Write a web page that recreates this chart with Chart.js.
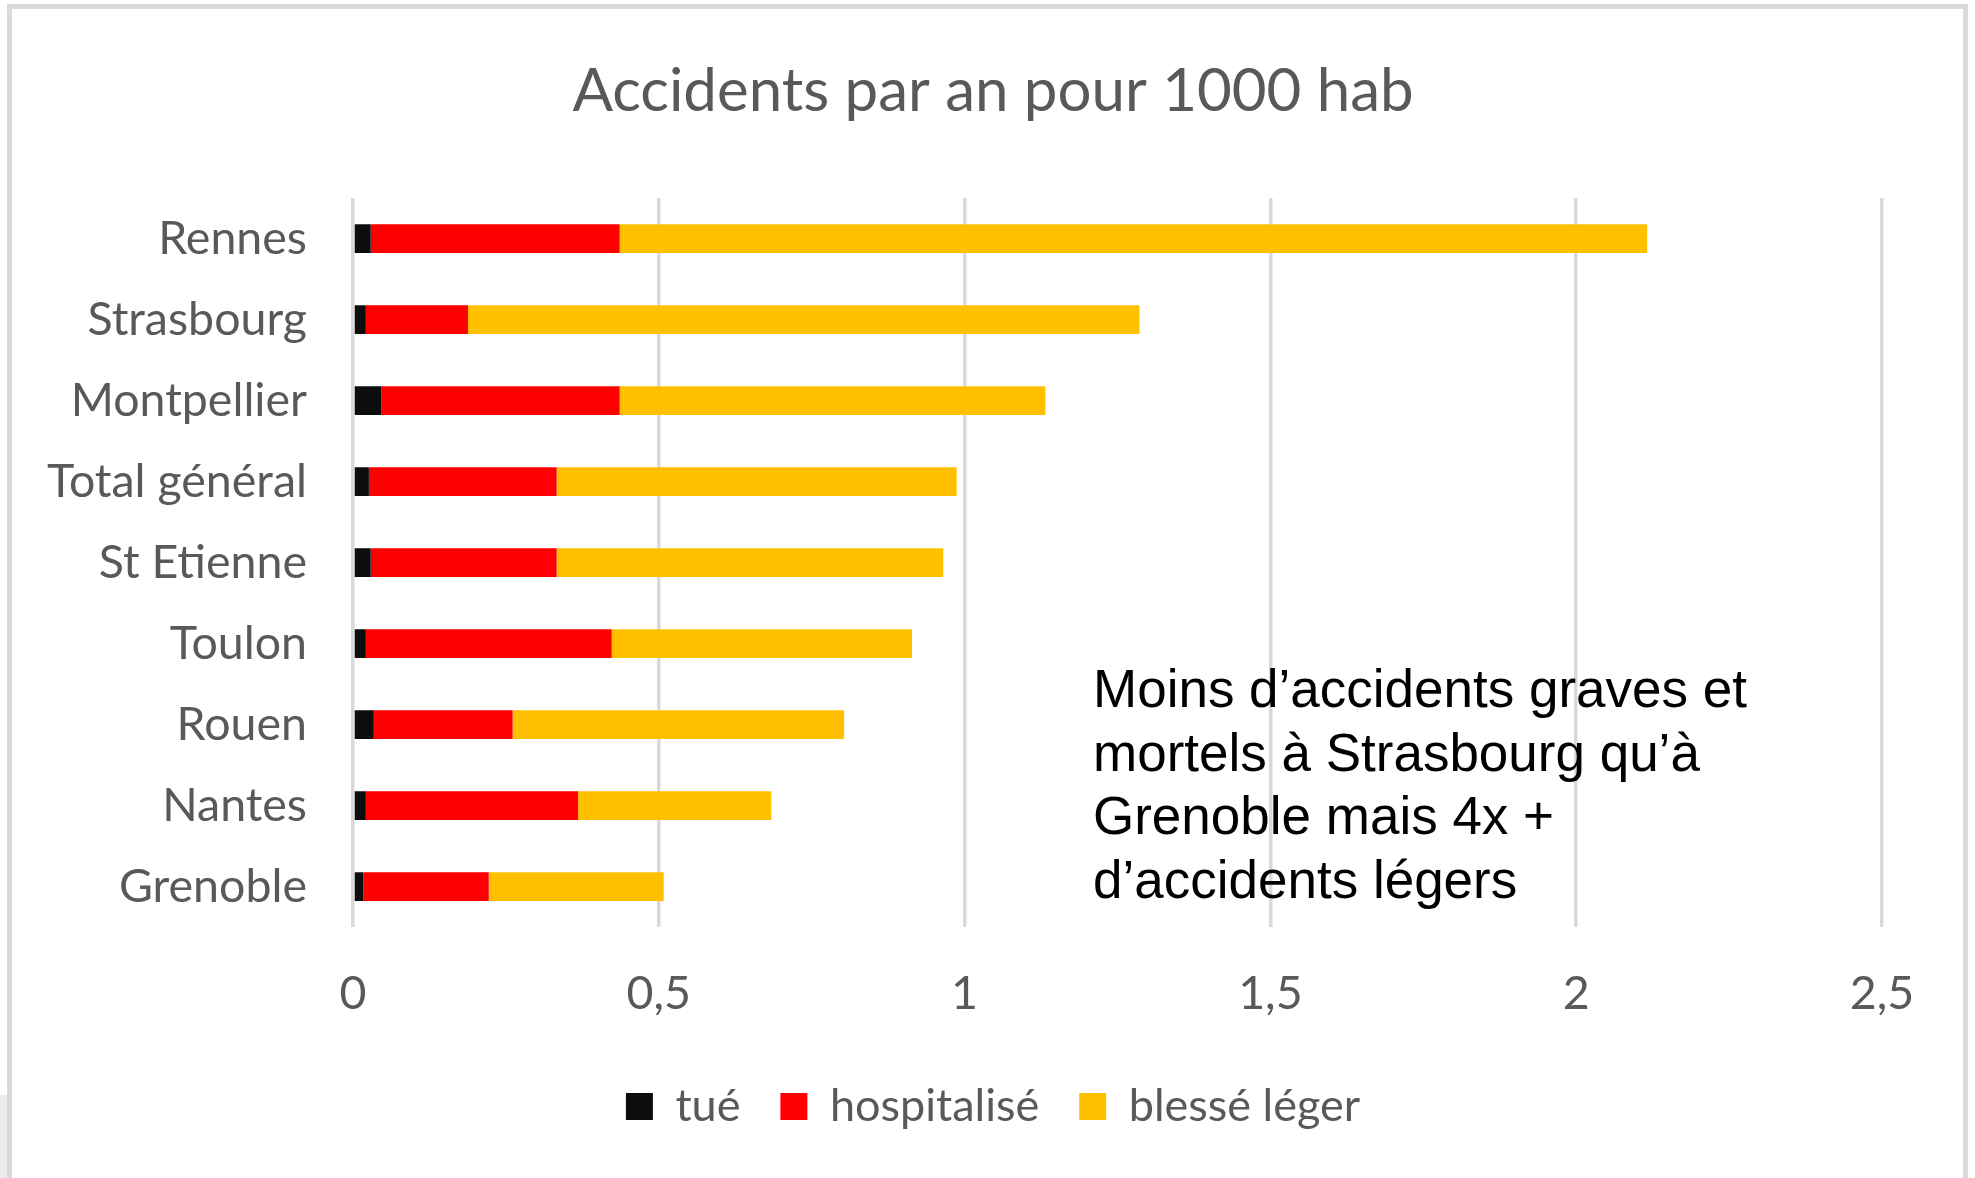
<!DOCTYPE html>
<html>
<head>
<meta charset="utf-8">
<script src="https://cdn.jsdelivr.net/npm/chart.js@4.4.1/dist/chart.umd.min.js"></script>
<style>
  html, body { margin: 0; padding: 0; background: #fff; overflow: hidden; }
  #frame { position: absolute; left: 7px; top: 4px; width: 1961px; height: 1200px;
           box-sizing: border-box; border: 5px solid #dadada; }
  #edge { position: absolute; left: 0; top: 1095px; width: 7px; height: 100px; background: #ececec; }
  #wrap { position: absolute; left: 0; top: 0; width: 1975px; height: 1178px; }
  #note { position: absolute; left: 1093px; top: 657px; font-family: "Liberation Sans", Arial, sans-serif;
          font-size: 53px; line-height: 63.5px; color: #000; white-space: nowrap; }
</style>
</head>
<body>
<div id="frame"></div>
<div id="edge"></div>
<div id="wrap"><canvas id="myChart" width="1975" height="1178"></canvas></div>
<div id="note">Moins d’accidents graves et<br>mortels à Strasbourg qu’à<br>Grenoble mais 4x +<br>d’accidents légers</div>
<script>
const cities = ['Rennes', 'Strasbourg', 'Montpellier', 'Total général', 'St Etienne',
                'Toulon', 'Rouen', 'Nantes', 'Grenoble'];
const tue = [0.029, 0.021, 0.046, 0.026, 0.029, 0.021, 0.034, 0.021, 0.017];
const hospitalise = [0.407, 0.167, 0.390, 0.307, 0.304, 0.402, 0.227, 0.347, 0.205];
const blesseLeger = [1.680, 1.098, 0.696, 0.654, 0.632, 0.491, 0.542, 0.316, 0.286];
const xTickLabels = ['0', '0,5', '1', '1,5', '2', '2,5'];

const grey = '#595959';
const labelFont = { family: 'Lato', size: 46.5 };

var chartContext = document.getElementById('myChart').getContext('2d');
var myChart = new Chart(chartContext, {
    type: 'bar',
    data: {
        labels: cities,
        datasets: [
            { label: 'tué', data: tue, backgroundColor: '#0d0d0d' },
            { label: 'hospitalisé', data: hospitalise, backgroundColor: '#ff0000' },
            { label: 'blessé léger', data: blesseLeger, backgroundColor: '#ffc000' }
        ]
    },
    options: {
        indexAxis: 'y',
        responsive: false,
        animation: false,
        devicePixelRatio: 1,
        layout: { padding: { left: 11, right: 0, top: 0, bottom: 39 } },
        datasets: { bar: { barPercentage: 0.355, categoryPercentage: 1 } },
        plugins: {
            title: {
                display: true,
                text: 'Accidents par an pour 1000 hab',
                color: grey,
                font: { family: 'Lato', size: 60, weight: 'normal' },
                padding: { top: 56, bottom: 70 }
            },
            legend: {
                position: 'bottom',
                labels: {
                    color: grey,
                    font: { family: 'Lato', size: 45 },
                    boxWidth: 27,
                    boxHeight: 27,
                    padding: 40
                }
            },
            tooltip: { enabled: false }
        },
        scales: {
            x: {
                stacked: true,
                min: 0,
                max: 2.5,
                border: { display: false },
                grid: { color: '#d9d9d9', lineWidth: 3.5, drawTicks: false },
                ticks: {
                    stepSize: 0.5,
                    color: grey,
                    font: labelFont,
                    padding: 39,
                    callback: function (value, index) { return xTickLabels[index]; }
                },
                afterFit: function (scale) { scale.height -= 17; }
            },
            y: {
                stacked: true,
                border: { display: false },
                grid: { display: false, drawTicks: false },
                ticks: { color: grey, font: labelFont, padding: 46 },
                afterFit: function (scale) { scale.width = 342; }
            },
            // empty right-hand axis that only reserves the blank margin right of 2,5
            yRight: {
                type: 'category',
                position: 'right',
                border: { display: false },
                grid: { display: false, drawTicks: false },
                ticks: { display: false },
                afterFit: function (scale) { scale.width = 93; }
            }
        }
    }
});
</script>
</body>
</html>
